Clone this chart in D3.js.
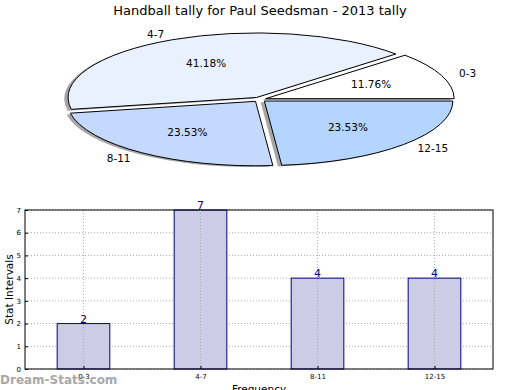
<!DOCTYPE html>
<html>
<head>
<meta charset="utf-8">
<script src="https://cdn.jsdelivr.net/npm/d3@7"></script>
<style>
  body { margin: 0; background: #fff; }
  text { font-family: "DejaVu Sans", sans-serif; }
</style>
</head>
<body>
<div id="vis"></div>
<script>
// chart data
var categories = ['0-3', '4-7', '8-11', '12-15'];
var counts = [2, 7, 4, 4];
var pieColors = ['#ffffff', '#eaf1fe', '#c5d8fe', '#b3d5ff'];
var yTicks = [0, 1, 2, 3, 4, 5, 6, 7];

var width = 520;
var height = 390;

var svg = d3.select('#vis').append('svg')
  .attr('width', width)
  .attr('height', height);

svg.append('text')
  .attr('x', 260)
  .attr('y', 15)
  .attr('text-anchor', 'middle')
  .style('font-size', '13px')
  .text('Handball tally for Paul Seedsman - 2013 tally');

// ---- pie (flattened, exploded, with shadow) ----
var cx = 259.5, cy = 99.5, rx = 188.5, ry = 64.5;
var explode = 0.035;
var total = d3.sum(counts);

// counter-clockwise starting at 3 o'clock
var pie = d3.pie().sort(null)
  .startAngle(Math.PI / 2)
  .endAngle(Math.PI / 2 - 2 * Math.PI);
var arcs = pie(counts);
var arc = d3.arc().innerRadius(0).outerRadius(1);

var pieG = svg.append('g')
  .attr('transform', 'translate(' + cx + ',' + cy + ') scale(' + rx + ',' + ry + ')');

function mid(d) { return (d.startAngle + d.endAngle) / 2; }
function offX(d) { return explode * Math.sin(mid(d)); }
function offY(d) { return -explode * Math.cos(mid(d)); }

// shadows go under every wedge
pieG.selectAll('.shadow')
  .data(arcs)
  .enter().append('path')
  .attr('class', 'shadow')
  .attr('d', arc)
  .attr('transform', function (d) {
    return 'translate(' + (offX(d) - 0.02) + ',' + (offY(d) + 0.02) + ')';
  })
  .attr('fill', '#4d4d4d')
  .attr('opacity', 0.5);

pieG.selectAll('.wedge')
  .data(arcs)
  .enter().append('path')
  .attr('class', 'wedge')
  .attr('d', arc)
  .attr('transform', function (d) {
    return 'translate(' + offX(d) + ',' + offY(d) + ')';
  })
  .attr('fill', function (d, i) { return pieColors[i]; })
  .attr('stroke', '#000')
  .attr('stroke-width', 1)
  .attr('vector-effect', 'non-scaling-stroke');

// labels at 1.1 r, percentages at 0.6 r
arcs.forEach(function (d, i) {
  var a = mid(d);
  var lx = cx + rx * (offX(d) + 1.1 * Math.sin(a));
  var ly = cy + ry * (offY(d) - 1.1 * Math.cos(a));
  svg.append('text')
    .attr('x', lx)
    .attr('y', ly)
    .attr('dy', '0.35em')
    .attr('text-anchor', Math.sin(a) > 0 ? 'start' : 'end')
    .style('font-size', '10.5px')
    .text(categories[i]);

  var px = cx + rx * (offX(d) + 0.6 * Math.sin(a));
  var py = cy + ry * (offY(d) - 0.6 * Math.cos(a));
  svg.append('text')
    .attr('x', px)
    .attr('y', py)
    .attr('dy', '0.35em')
    .attr('text-anchor', 'middle')
    .style('font-size', '10.5px')
    .text((counts[i] / total * 100).toFixed(2) + '%');
});

// ---- bar chart ----
var margin = { left: 25, right: 493, top: 210, bottom: 369 };

var x = d3.scaleLinear()
  .domain([-0.5, categories.length - 0.5])
  .range([margin.left, margin.right]);
var y = d3.scaleLinear()
  .domain([0, 7])
  .range([margin.bottom, margin.top]);
var barW = 0.45;

var barG = svg.append('g');

// grid
barG.selectAll('.hgrid')
  .data(yTicks)
  .enter().append('line')
  .attr('x1', margin.left).attr('x2', margin.right)
  .attr('y1', function (d) { return y(d); })
  .attr('y2', function (d) { return y(d); })
  .attr('stroke', '#aaa')
  .attr('stroke-dasharray', '1,2');

barG.selectAll('.bar')
  .data(counts)
  .enter().append('rect')
  .attr('x', function (d, i) { return x(i - barW / 2); })
  .attr('width', x(barW) - x(0))
  .attr('y', function (d) { return y(d); })
  .attr('height', function (d) { return y(0) - y(d); })
  .attr('fill', '#ccccE6')
  .attr('stroke', '#000080')
  .attr('stroke-width', 1);

barG.selectAll('.vgrid')
  .data(categories)
  .enter().append('line')
  .attr('x1', function (d, i) { return x(i); })
  .attr('x2', function (d, i) { return x(i); })
  .attr('y1', margin.top).attr('y2', margin.bottom)
  .attr('stroke', '#aaa')
  .attr('stroke-dasharray', '1,2');

// value labels
barG.selectAll('.val')
  .data(counts)
  .enter().append('text')
  .attr('x', function (d, i) { return x(i); })
  .attr('y', function (d) { return y(d) - 1; })
  .attr('text-anchor', 'middle')
  .attr('fill', '#000080')
  .style('font-size', '11px')
  .text(function (d) { return d; });

// frame
barG.append('rect')
  .attr('x', margin.left)
  .attr('y', margin.top)
  .attr('width', margin.right - margin.left)
  .attr('height', margin.bottom - margin.top)
  .attr('fill', 'none')
  .attr('stroke', '#000')
  .attr('stroke-width', 1);

// axes
var yAxis = d3.axisLeft(y).tickValues(yTicks).tickFormat(d3.format('d'))
  .tickSize(-3).tickPadding(4);
var yAxisG = barG.append('g')
  .attr('transform', 'translate(' + margin.left + ',0)')
  .call(yAxis);
yAxisG.select('.domain').remove();
yAxisG.selectAll('text').style('font-size', '7px').style('font-family', '"DejaVu Sans", sans-serif');

var xAxis = d3.axisBottom(x)
  .tickValues(d3.range(categories.length))
  .tickFormat(function (i) { return categories[i]; })
  .tickSize(-3).tickPadding(5);
var xAxisG = barG.append('g')
  .attr('transform', 'translate(0,' + margin.bottom + ')')
  .call(xAxis);
xAxisG.select('.domain').remove();
xAxisG.selectAll('text').style('font-size', '7px').style('font-family', '"DejaVu Sans", sans-serif');

svg.append('text')
  .attr('transform', 'translate(13,' + ((margin.top + margin.bottom) / 2) + ') rotate(-90)')
  .attr('text-anchor', 'middle')
  .style('font-size', '10.5px')
  .text('Stat Intervals');

svg.append('text')
  .attr('x', (margin.left + margin.right) / 2)
  .attr('y', 393)
  .attr('text-anchor', 'middle')
  .style('font-size', '10.5px')
  .text('Frequency');

// watermark
svg.append('text')
  .attr('x', 0)
  .attr('y', 384)
  .attr('fill', '#999')
  .attr('opacity', 0.85)
  .style('font-size', '12px')
  .style('font-weight', 'bold')
  .text('Dream-Stats.com');
</script>
</body>
</html>
